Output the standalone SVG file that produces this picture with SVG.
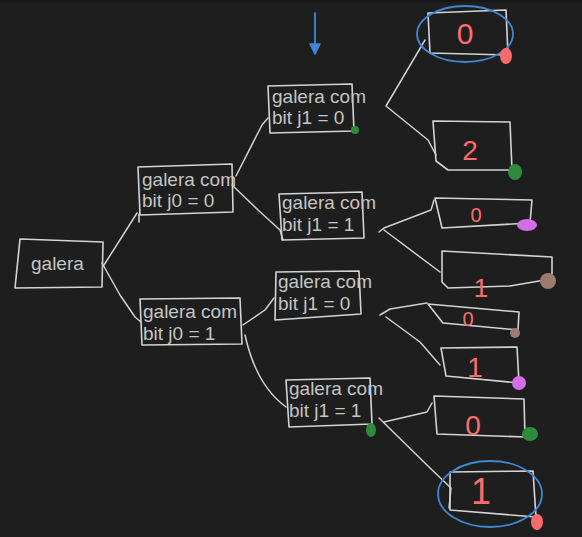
<svg xmlns="http://www.w3.org/2000/svg" width="582" height="537" viewBox="0 0 582 537">
<style>
.bg{fill:#1e1e1e}
.box{fill:none;stroke:#d4d4d4;stroke-width:1.6;stroke-linejoin:round;stroke-linecap:round}
.edge{fill:none;stroke:#d0d0d0;stroke-width:1.5;stroke-linecap:round;stroke-linejoin:round}
.lbl{font-family:"Liberation Sans",Arial,sans-serif;font-size:19px;fill:#c4c4c4}
.dig{font-family:"Liberation Sans",Arial,sans-serif;fill:#ff6b6b;text-anchor:middle}
.ring{fill:none;stroke:#3d87d4;stroke-width:1.8}
</style>
<rect class="bg" x="0" y="0" width="582" height="537"/>
<rect x="0" y="0" width="582" height="2" fill="#161616"/>

<g id="connectors">
<path class="edge" d="M104,265 L125,232 L137,213"/>
<path class="edge" d="M102,263 L120,295 L135,317 L141,322"/>
<path class="edge" d="M236,176 L262,125 L268,118"/>
<path class="edge" d="M232,185 L258,210 L280,230 L283,240"/>
<path class="edge" d="M243,325 L265,310 L274,298"/>
<path class="edge" d="M245,335 Q256,385 286,407"/>
<path class="edge" d="M425,40 L386,106 L428,140 L436,155"/>
<path class="edge" d="M379,232 L384,228 L431,210 L434,200"/>
<path class="edge" d="M384,230 L440,272"/>
<path class="edge" d="M380,315 L390,309 L427,303"/>
<path class="edge" d="M386,317 L420,342 L440,365"/>
<path class="edge" d="M384,422 L427,412 L432,403"/>
<path class="edge" d="M379,418 L430,468 L451,488 L449,508"/>
<path d="M315,13 L315,46" fill="none" stroke="#3d87d4" stroke-width="1.8" stroke-linecap="round"/>
<path d="M310,44 L320,44 L315,54 z" fill="#3d87d4" stroke="#3d87d4" stroke-width="1.5" stroke-linejoin="round"/>
</g>

<g id="galera">
<polygon class="box" points="20,239 103,242 102,287 15,288"/>
<text class="lbl" x="31" y="270">galera</text>
</g>

<g id="j0-0">
<polygon class="box" points="138,167 232,164 233,212 140,215"/>
<path class="box" d="M139,214 L139,222"/>
<text class="lbl" x="142" y="186">galera com</text>
<text class="lbl" x="142" y="207">bit j0 = 0</text>
</g>

<g id="j0-1">
<polygon class="box" points="140,299 240,298 242,344 142,345"/>
<text class="lbl" x="143" y="318">galera com</text>
<text class="lbl" x="143" y="340">bit j0 = 1</text>
</g>

<g id="j1-0-top">
<polygon class="box" points="268,86 352,84 354,131 270,133"/>
<text class="lbl" x="272" y="103">galera com</text>
<text class="lbl" x="272" y="124">bit j1 = 0</text>
<circle cx="355" cy="130" r="4" fill="#2e8b3e"/>
</g>

<g id="j1-1-upper">
<polygon class="box" points="279,194 362,192 364,238 282,240"/>
<text class="lbl" x="282" y="209">galera com</text>
<text class="lbl" x="282" y="231">bit j1 = 1</text>
</g>

<g id="j1-0-lower">
<polygon class="box" points="276,272 359,271 361,314 275,320"/>
<text class="lbl" x="278" y="288">galera com</text>
<text class="lbl" x="278" y="310">bit j1 = 0</text>
</g>

<g id="j1-1-bottom">
<polygon class="box" points="286,380 370,378 372,424 289,427"/>
<text class="lbl" x="289" y="395">galera com</text>
<text class="lbl" x="289" y="417">bit j1 = 1</text>
<ellipse cx="371" cy="430" rx="5" ry="7" fill="#2e8b3e"/>
</g>

<g id="leaf-0-a">
<polygon class="box" points="428,13 506,10 508,55 430,53"/>
<ellipse class="ring" cx="465" cy="34" rx="48" ry="28"/>
<text class="dig" x="465" y="44" font-size="30">0</text>
<ellipse cx="506" cy="56" rx="6" ry="8" fill="#ff6b6b"/>
</g>

<g id="leaf-2">
<polygon class="box" points="433,121 510,122 512,170 448,170 436,161"/>
<text class="dig" x="470" y="160" font-size="28">2</text>
<ellipse cx="515" cy="172" rx="7" ry="8" fill="#2e8b3e"/>
</g>

<g id="leaf-0-b">
<polygon class="box" points="435,198 532,200 530,223 442,228"/>
<text class="dig" x="476" y="222" font-size="20">0</text>
<ellipse cx="527" cy="225" rx="10" ry="6" fill="#d36ee8"/>
</g>

<g id="leaf-1-a">
<polygon class="box" points="442,251 552,257 552,274 545,280 510,286 448,288 442,282"/>
<text class="dig" x="481" y="297" font-size="26">1</text>
<circle cx="548" cy="281" r="8" fill="#9e7b6e"/>
</g>

<g id="leaf-0-c">
<polygon class="box" points="428,304 519,312 518,330 443,323"/>
<text class="dig" x="468" y="326" font-size="20">0</text>
<circle cx="515" cy="333" r="5" fill="#9e7b6e"/>
</g>

<g id="leaf-1-b">
<polygon class="box" points="441,348 517,347 519,383 446,376"/>
<text class="dig" x="475" y="377" font-size="28">1</text>
<circle cx="519" cy="383" r="7" fill="#d36ee8"/>
</g>

<g id="leaf-0-d">
<polygon class="box" points="434,396 524,399 525,437 437,434"/>
<text class="dig" x="473" y="435" font-size="28">0</text>
<ellipse cx="530" cy="434" rx="8" ry="7" fill="#2e8b3e"/>
</g>

<g id="leaf-1-c">
<polygon class="box" points="450,472 533,471 536,517 450,510"/>
<ellipse class="ring" cx="490" cy="494" rx="52" ry="33"/>
<text class="dig" x="481" y="504" font-size="36">1</text>
<ellipse cx="537" cy="522" rx="6" ry="8" fill="#ff6b6b"/>
</g>
</svg>
